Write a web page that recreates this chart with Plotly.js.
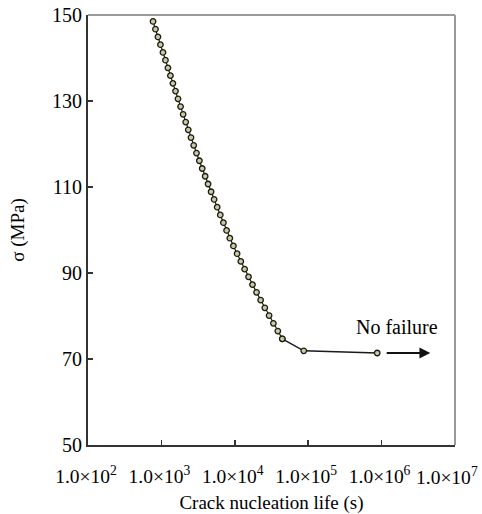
<!DOCTYPE html>
<html>
<head>
<meta charset="utf-8">
<script src="https://cdn.plot.ly/plotly-3.0.1.min.js"></script>
<style>html,body{margin:0;padding:0;background:#fff;}#chart{width:482px;height:514px;}</style>
</head>
<body>
<div id="chart"></div>
<script>
// Crack nucleation life (s) and stress sigma (MPa)
const life = [769, 830, 897, 970, 1050, 1135, 1227, 1327, 1435, 1556, 1683, 1824, 1977, 2143,
  2323, 2529, 2754, 3006, 3289, 3597, 3945, 4325, 4753, 5224, 5754, 6339, 6998, 7727, 8551,
  9572, 10740, 12080, 13610, 15380, 17420, 19770, 22490, 25640, 29310, 33570, 38550, 44360];
const sigma = [148.5, 146.7, 144.9, 143.1, 141.3, 139.5, 137.7, 135.9, 134.1, 132.3, 130.5, 128.7, 126.9, 125.1,
  123.3, 121.5, 119.7, 117.9, 116.1, 114.3, 112.5, 110.7, 108.9, 107.1, 105.3, 103.5, 101.7, 99.9, 98.1,
  96.3, 94.5, 92.7, 90.9, 89.1, 87.3, 85.5, 83.7, 81.9, 80.1, 78.3, 76.5, 74.7];
const tailLife = [44360, 87000, 871000];
const tailSigma = [74.7, 71.9, 71.4];
const arrowFrom = [1120000, 71.4];
const arrowTo = [4600000, 71.4];
const noteText = "No failure";
const noteAt = [1600000, 77.4];
const tickVals = [1e2, 1e3, 1e4, 1e5, 1e6, 1e7];
const tickText = ["1.0×10<sup>2</sup>", "1.0×10<sup>3</sup>", "1.0×10<sup>4</sup>",
  "1.0×10<sup>5</sup>", "1.0×10<sup>6</sup>", "1.0×10<sup>7</sup>"];
const yTicks = [50, 70, 90, 110, 130, 150];

const serif = "Liberation Serif, Times New Roman, serif";
const markerStyle = {symbol: "circle", size: 5.5, color: "#c9c9a2", line: {color: "#1a1a10", width: 1.3}};

const traces = [
  {x: tailLife, y: tailSigma, mode: "lines+markers", type: "scatter",
   line: {color: "#1a1a1a", width: 1.5}, marker: markerStyle, hoverinfo: "skip"},
  {x: life, y: sigma, mode: "lines+markers", type: "scatter",
   line: {color: "#1a1a1a", width: 1.2}, marker: markerStyle}
];

// the last tick label would run past the page edge, so it is drawn as an annotation
const axisTickText = tickText.slice(0, -1).concat([""]);

const layout = {
  width: 482, height: 514,
  margin: {l: 88, r: 27, t: 15, b: 69},
  paper_bgcolor: "#fff", plot_bgcolor: "#fff",
  showlegend: false,
  font: {family: serif, size: 20, color: "#000"},
  xaxis: {
    type: "log", range: [2, 7],
    tickvals: tickVals, ticktext: axisTickText,
    ticks: "inside", ticklen: 5, tickwidth: 1.5, tickcolor: "#333",
    showline: true, linecolor: "#333", linewidth: 2, mirror: false,
    showgrid: false, zeroline: false,
    ticklabelstandoff: 13, ticklabeloverflow: "allow", ticklabelshift: -2,
    tickfont: {family: serif, size: 19.5},
    automargin: false,
    title: {text: "Crack nucleation life (s)", font: {family: serif, size: 19}, standoff: 14}
  },
  yaxis: {
    range: [50, 150],
    tickvals: yTicks,
    ticks: "inside", ticklen: 5, tickwidth: 1.5, tickcolor: "#333",
    showline: true, linecolor: "#333", linewidth: 2, mirror: false,
    showgrid: false, zeroline: false,
    tickfont: {family: serif, size: 20},
    automargin: false,
    title: {text: "σ (MPa)", font: {family: serif, size: 19}, standoff: 22}
  },
  shapes: [
    {type: "line", xref: "paper", yref: "paper", x0: 0, x1: 1, y0: 1, y1: 1, line: {color: "#999", width: 2}},
    {type: "line", xref: "paper", yref: "paper", x0: 1, x1: 1, y0: 0, y1: 1, line: {color: "#999", width: 2}}
  ],
  annotations: [
    {x: Math.log10(arrowTo[0]), y: arrowTo[1], ax: Math.log10(arrowFrom[0]), ay: arrowFrom[1],
     xref: "x", yref: "y", axref: "x", ayref: "y", text: "", showarrow: true,
     arrowhead: 2, arrowsize: 1.2, arrowwidth: 1.8, arrowcolor: "#111"},
    {x: Math.log10(noteAt[0]), y: noteAt[1], xref: "x", yref: "y", text: noteText,
     showarrow: false, font: {family: serif, size: 20, color: "#000"}},
    {x: 1.068, y: -0.072, xref: "paper", yref: "paper", xanchor: "right", yanchor: "middle",
     text: tickText[tickText.length - 1], showarrow: false,
     font: {family: serif, size: 19.5, color: "#000"}}
  ]
};

Plotly.newPlot("chart", traces, layout, {displayModeBar: false, staticPlot: true});
</script>
</body>
</html>
